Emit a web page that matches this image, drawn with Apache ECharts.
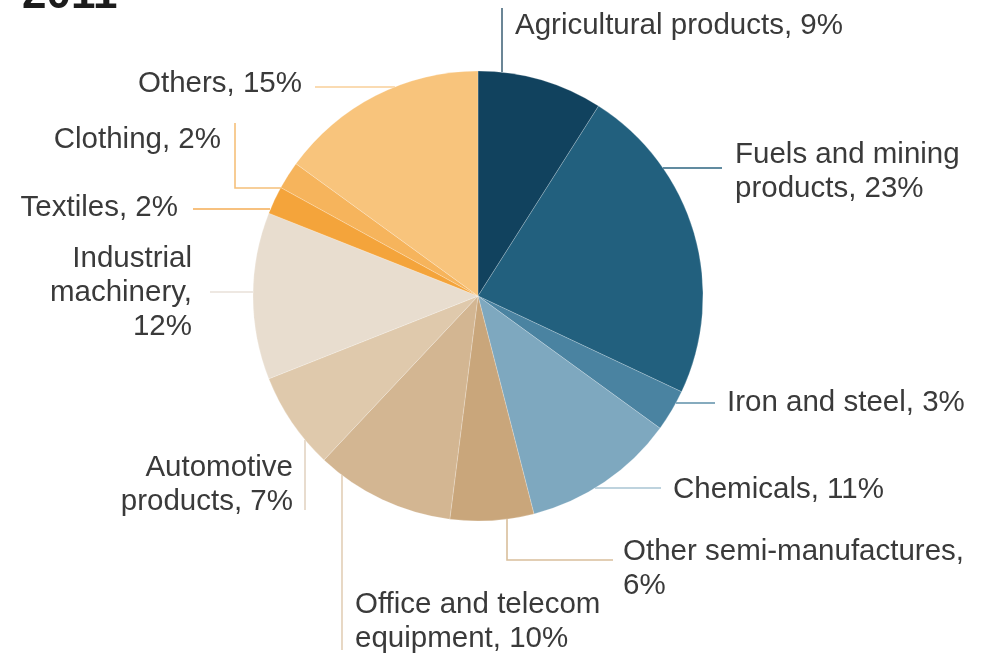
<!DOCTYPE html>
<html>
<head>
<meta charset="utf-8">
<script src="https://cdn.jsdelivr.net/npm/echarts@6/dist/echarts.min.js"></script>
<style>
html,body{margin:0;padding:0;background:#fff;}
#chart{width:992px;height:658px;}
</style>
</head>
<body>
<div id="chart"></div>
<script>
// ---- data ----
const categories = ['Agricultural products','Fuels and mining products','Iron and steel','Chemicals','Other semi-manufactures','Office and telecom equipment','Automotive products','Industrial machinery','Textiles','Clothing','Others'];
const shares = [9, 23, 3, 11, 6, 10, 7, 12, 2, 2, 15];
const wrappedNames = ['Agricultural products','Fuels and mining\nproducts','Iron and steel','Chemicals','Other semi-manufactures','Office and telecom\nequipment','Automotive\nproducts','Industrial\nmachinery','Textiles','Clothing','Others'];
const valueSeparators = [' ',' ',' ',' ','\n',' ',' ','\n',' ',' ',' '];
const titleText = '2011';

// ---- styles ----
const sliceColors = ['#11425e','#22607e','#4a83a1','#7ea8bf','#c9a67b','#d3b692','#dfc9ac','#e8ddcf','#f4a43b','#f6b45c','#f8c47c'];
const lineColors  = ['#46687c','#2d6580','#5e8fa8','#a9c4d3','#d9bf9c','#e2cfb6','#e3d4c2','#e8e1d8','#f4ad55','#f5c07a','#f8cf98'];
const labelPlacement = [
  {x:515, y:26,  align:'left',  line:[[502,72],[502,40],[502,8]]},
  {x:735, y:172, align:'left',  line:[[663,168],[692,168],[722,168]]},
  {x:727, y:403, align:'left',  line:[[676,403],[695,403],[715,403]]},
  {x:673, y:490, align:'left',  line:[[595,488],[628,488],[661,488]]},
  {x:623, y:569, align:'left',  line:[[507,519],[507,560],[613,560]]},
  {x:355, y:622, align:'left',  line:[[342,475],[342,560],[342,650]]},
  {x:293, y:485, align:'right', line:[[305,440],[305,475],[305,510]]},
  {x:192, y:293, align:'right', line:[[253,292],[232,292],[210,292]]},
  {x:178, y:208, align:'right', line:[[270,209],[232,209],[193,209]]},
  {x:221, y:140, align:'right', line:[[281,188],[235,188],[235,123]]},
  {x:302, y:84,  align:'right', line:[[395,87],[355,87],[315,87]]}
];

const chart = echarts.init(document.getElementById('chart'), null, {renderer:'canvas'});
const FONT = "'Liberation Sans', Arial, Helvetica, sans-serif";

chart.setOption({
  animation: false,
  backgroundColor: '#ffffff',
  graphic: [{
    type: 'text',
    left: 22,
    top: -26,
    style: {
      text: titleText,
      font: "bold 44px " + FONT,
      fill: '#1c1c1c'
    }
  }],
  series: [{
    type: 'pie',
    center: [478, 296],
    radius: [0, 225],
    startAngle: 90,
    clockwise: true,
    avoidLabelOverlap: false,
    itemStyle: {borderColor: 'rgba(255,255,255,0.35)', borderWidth: 0.6},
    label: {
      show: true,
      position: 'outside',
      color: '#3a3a3a',
      fontFamily: FONT,
      fontSize: 29.5,
      lineHeight: 34,
      formatter: function (p) {
        return wrappedNames[p.dataIndex] + ',' + valueSeparators[p.dataIndex] + p.value + '%';
      }
    },
    labelLine: {show: true, length: 10, length2: 10, smooth: false, lineStyle: {width: 1.6}},
    labelLayout: function (params) {
      const L = labelPlacement[params.dataIndex];
      return {
        x: L.x,
        y: L.y,
        align: L.align,
        verticalAlign: 'middle',
        labelLinePoints: L.line
      };
    },
    emphasis: {disabled: true},
    data: categories.map(function (c, i) {
      return {
        name: c,
        value: shares[i],
        itemStyle: {color: sliceColors[i]},
        label: {align: labelPlacement[i].align},
        labelLine: {lineStyle: {color: lineColors[i]}}
      };
    })
  }]
});
</script>
</body>
</html>
